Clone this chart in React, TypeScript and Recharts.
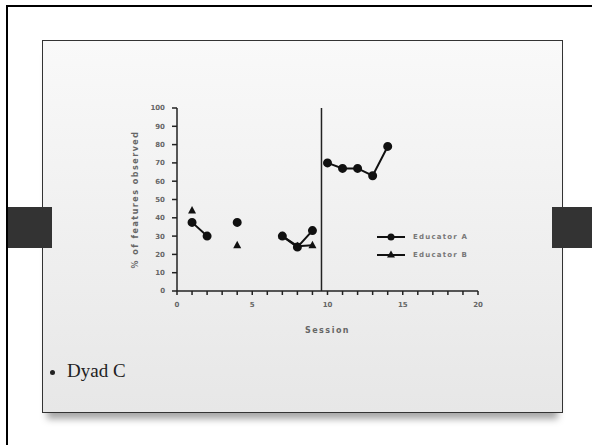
import React from 'react'
import { LineChart, Line, XAxis, YAxis, ReferenceLine } from 'recharts'

// sessions 1-14, null = not observed
const sessions = [1, 2, 3, 4, 5, 6, 7, 8, 9, 10, 11, 12, 13, 14]
const educatorA = [37.5, 30, null, 37.5, null, null, 30, 24, 33, 70, 67, 67, 63, 79]
const educatorB = [44, null, null, 25, null, null, 30, 24.5, 25, null, null, null, null, null]
const phaseChange = 9.6

const xTicks = [0, 1, 2, 3, 4, 5, 6, 7, 8, 9, 10, 11, 12, 13, 14, 15, 16, 17, 18, 19, 20]
const yTicks = [0, 10, 20, 30, 40, 50, 60, 70, 80, 90, 100]
const legendItems = [
  { name: 'Educator A', shape: 'circle' },
  { name: 'Educator B', shape: 'triangle' },
]

const rows = sessions.map((s, i) => ({
  session: s,
  aBaseline: s < phaseChange ? educatorA[i] : null,
  aTreatment: s > phaseChange ? educatorA[i] : null,
  b: educatorB[i],
}))

const tickStyle = { fontSize: 7, fill: '#666', fontFamily: 'DejaVu Sans', fontWeight: 700 }

function Triangle(props: any) {
  const { cx, cy, value } = props
  if (value == null || cx == null || cy == null) return <g key={props.key} />
  return (
    <path
      key={props.key}
      d={`M${cx},${cy - 4.5} L${cx + 4},${cy + 3} L${cx - 4},${cy + 3} Z`}
      fill="#111"
    />
  )
}

function Marker({ shape }: { shape: string }) {
  return (
    <svg width={30} height={10} style={{ display: 'block' }}>
      <line x1={1} y1={5} x2={29} y2={5} stroke="#111" strokeWidth={2} />
      {shape === 'circle' ? (
        <circle cx={15} cy={5} r={3.5} fill="#111" />
      ) : (
        <path d="M15,0.5 L19,7.5 L11,7.5 Z" fill="#111" />
      )}
    </svg>
  )
}

export default function App() {
  return (
    <div style={{ position: 'absolute', left: 0, top: 0, width: 592, height: 445, overflow: 'hidden', background: '#fff' }}>
      <div
        style={{
          position: 'absolute',
          left: 42,
          top: 40,
          width: 519,
          height: 371,
          border: '1px solid #333',
          background: 'linear-gradient(#f9f9f9, #e7e7e7)',
          boxShadow: '0 11px 7px -5px rgba(0,0,0,0.35)',
        }}
      />
      <div style={{ position: 'absolute', left: 7, top: 207, width: 45, height: 41, background: '#333' }} />
      <div style={{ position: 'absolute', left: 552, top: 207, width: 40, height: 41, background: '#333' }} />
      {/* slide frame: only the top and left edges are in view */}
      <div style={{ position: 'absolute', zIndex: 5, left: 6, top: 5, width: 2, height: 440, background: '#000' }} />
      <div style={{ position: 'absolute', zIndex: 5, left: 6, top: 5, width: 586, height: 2, background: '#000' }} />

      <div style={{ position: 'absolute', left: 100, top: 90 }}>
        <LineChart width={400} height={260} data={rows} margin={{ top: 18, right: 22, bottom: 14, left: 17 }}>
          <XAxis
            dataKey="session"
            type="number"
            domain={[0, 20]}
            ticks={xTicks}
            interval={0}
            tickFormatter={(v: number) => (v % 5 === 0 ? String(v) : '')}
            tick={tickStyle}
            tickSize={4}
            tickMargin={7}
            height={45}
            stroke="#222"
            strokeWidth={1.5}
            label={{ value: 'Session', position: 'insideBottom', offset: 3, style: { ...tickStyle, fontSize: 8, letterSpacing: 1.5 } }}
          />
          <YAxis
            type="number"
            domain={[0, 100]}
            ticks={yTicks}
            interval={0}
            tick={tickStyle}
            tickSize={5}
            tickMargin={7}
            width={60}
            stroke="#222"
            strokeWidth={1.5}
            label={{
              value: '% of features observed',
              angle: -90,
              position: 'insideLeft',
              offset: 18,
              style: { ...tickStyle, fontSize: 8, letterSpacing: 1.5, textAnchor: 'middle' },
            }}
          />
          <ReferenceLine x={phaseChange} stroke="#222" strokeWidth={1.5} />
          <Line
            dataKey="b"
            stroke="#111"
            strokeWidth={2}
            dot={Triangle}
            activeDot={false}
            isAnimationActive={false}
          />
          <Line
            dataKey="aBaseline"
            stroke="#111"
            strokeWidth={2}
            dot={{ r: 3.5, fill: '#111', stroke: '#111' }}
            activeDot={false}
            isAnimationActive={false}
          />
          <Line
            dataKey="aTreatment"
            stroke="#111"
            strokeWidth={2}
            dot={{ r: 3.5, fill: '#111', stroke: '#111' }}
            activeDot={false}
            isAnimationActive={false}
          />
        </LineChart>
      </div>

      <div style={{ position: 'absolute', left: 376, top: 228 }}>
        {legendItems.map((it) => (
          <div key={it.name} style={{ display: 'flex', alignItems: 'center', height: 18 }}>
            <Marker shape={it.shape} />
            <span
              style={{
                marginLeft: 7,
                fontSize: 7,
                letterSpacing: 1.2,
                color: '#777',
                fontFamily: 'DejaVu Sans',
                fontWeight: 700,
              }}
            >
              {it.name}
            </span>
          </div>
        ))}
      </div>

      <div
        style={{
          position: 'absolute',
          left: 50,
          top: 360,
          fontFamily: 'Liberation Serif',
          fontSize: 19,
          color: '#222',
          whiteSpace: 'nowrap',
          display: 'flex',
          alignItems: 'center',
        }}
      >
        <span style={{ display: 'inline-block', width: 5, height: 5, borderRadius: 3, background: '#222', marginRight: 12, marginTop: 2 }} />
        Dyad C
      </div>
    </div>
  )
}
